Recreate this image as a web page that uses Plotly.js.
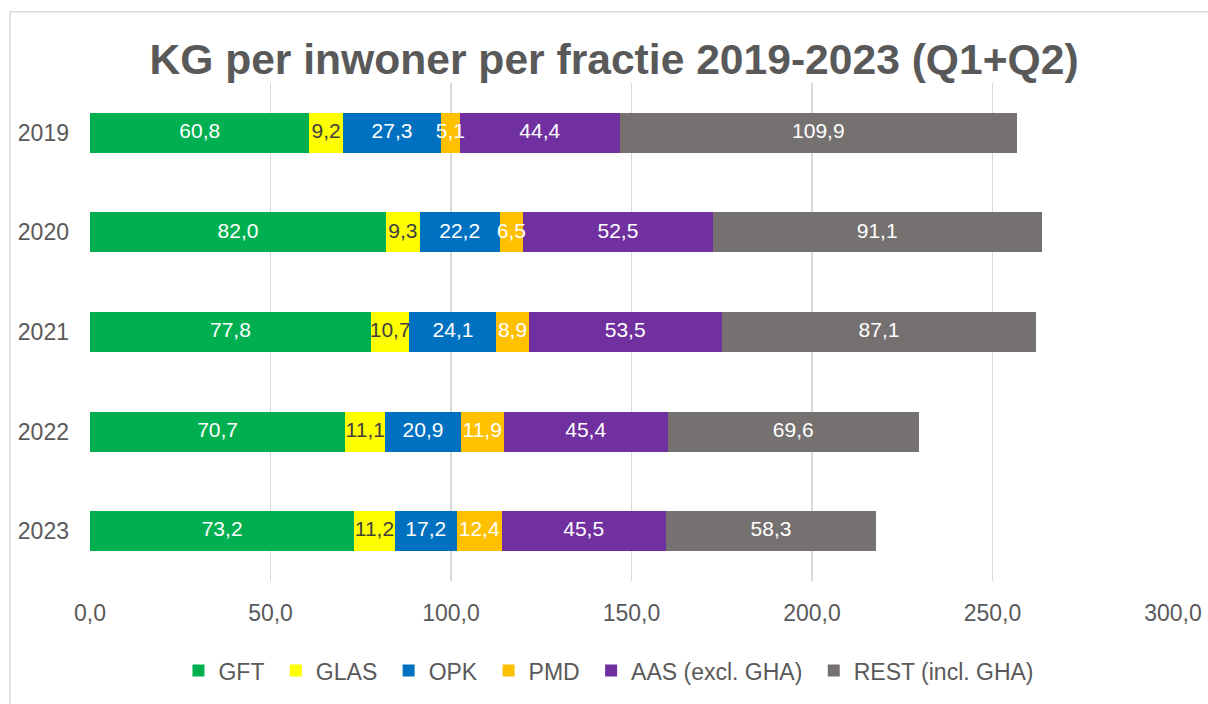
<!DOCTYPE html>
<html>
<head>
<meta charset="utf-8">
<script src="https://cdn.plot.ly/plotly-3.0.1.min.js"></script>
<style>
html,body{margin:0;padding:0;background:#fff;}
#chart{width:1208px;height:704px;}
</style>
</head>
<body>
<div id="chart"></div>
<script>
const years = ['2019', '2020', '2021', '2022', '2023'];
const GFT  = [60.8, 82.0, 77.8, 70.7, 73.2];
const GLAS = [9.2, 9.3, 10.7, 11.1, 11.2];
const OPK  = [27.3, 22.2, 24.1, 20.9, 17.2];
const PMD  = [5.1, 6.5, 8.9, 11.9, 12.4];
const AAS  = [44.4, 52.5, 53.5, 45.4, 45.5];
const REST = [109.9, 91.1, 87.1, 69.6, 58.3];
const xTicks = [0, 50, 100, 150, 200, 250, 300];

const NB = '\u00a0';
const series = [
  {name: 'GFT', values: GFT, color: '#00B050', text: '#ffffff'},
  {name: 'GLAS', values: GLAS, color: '#FFFF00', text: '#404040'},
  {name: 'OPK', values: OPK, color: '#0070C0', text: '#ffffff'},
  {name: 'PMD', values: PMD, color: '#FFC000', text: '#ffffff'},
  {name: 'AAS (excl. GHA)', values: AAS, color: '#7030A0', text: '#ffffff'},
  {name: 'REST (incl. GHA)', values: REST, color: '#767171', text: '#ffffff'}
];

const FONT = 'Liberation Sans, Arial, sans-serif';

const barTraces = series.map((s, i) => ({
  type: 'bar',
  orientation: 'h',
  name: i < series.length - 1 ? s.name + NB : s.name,
  y: years,
  x: s.values,
  marker: {color: s.color, line: {width: 0}},
  hoverinfo: 'x+name'
}));

// data labels drawn on top of all bars, centred on each segment
const base = years.map(() => 0);
const labelTraces = series.map(s => {
  const mids = s.values.map((v, j) => base[j] + v / 2);
  s.values.forEach((v, j) => { base[j] += v; });
  return {
    type: 'scatter',
    mode: 'text',
    x: mids,
    y: years,
    customdata: s.values,
    texttemplate: '%{customdata:.1f}',
    textposition: 'middle center',
    textfont: {family: FONT, size: 21, color: s.text},
    showlegend: false,
    hoverinfo: 'skip',
    cliponaxis: false
  };
});

const layout = {
  width: 1208,
  height: 704,
  margin: {l: 89.5, r: 35.2, t: 83, b: 121},
  paper_bgcolor: '#ffffff',
  plot_bgcolor: '#ffffff',
  barmode: 'stack',
  bargap: 0.6,
  separators: ',.',
  font: {family: FONT, color: '#595959'},
  title: {
    text: '<b>KG per inwoner per fractie 2019-2023 (Q1+Q2)</b>',
    font: {family: FONT, size: 42.6, color: '#595959'},
    xref: 'container', x: 614 / 1208, xanchor: 'center',
    yref: 'container', y: (704 - 59) / 704, yanchor: 'middle'
  },
  xaxis: {
    range: [0, 300],
    tickvals: xTicks,
    tickformat: '.1f',
    showgrid: true,
    gridcolor: '#D9D9D9',
    gridwidth: 1.5,
    zeroline: false,
    showline: false,
    ticks: '',
    ticklabelstandoff: 16,
    tickfont: {family: FONT, size: 23, color: '#595959'},
    fixedrange: true
  },
  yaxis: {
    type: 'category',
    categoryorder: 'array',
    categoryarray: years,
    autorange: 'reversed',
    showgrid: false,
    zeroline: false,
    showline: false,
    ticks: '',
    ticklabelstandoff: 20,
    tickfont: {family: FONT, size: 23, color: '#595959'},
    fixedrange: true
  },
  legend: {
    orientation: 'h',
    xref: 'paper', x: (178 - 89.5) / 1083.3, xanchor: 'left',
    yref: 'paper', y: (583 - 673) / 500, yanchor: 'middle',
    font: {family: FONT, size: 23, color: '#595959'},
    traceorder: 'normal',
    bgcolor: 'rgba(0,0,0,0)'
  },
  shapes: [{
    type: 'rect',
    xref: 'paper', yref: 'paper',
    x0: (9.5 - 89.5) / 1083.3, x1: (1219 - 89.5) / 1083.3,
    y0: (583 - 712) / 500, y1: 1 + (83 - 11.5) / 500,
    line: {color: '#D9D9D9', width: 1.5},
    fillcolor: 'rgba(0,0,0,0)',
    layer: 'below'
  }]
};

Plotly.newPlot('chart', barTraces.concat(labelTraces), layout, {displayModeBar: false, staticPlot: true});
</script>
</body>
</html>
